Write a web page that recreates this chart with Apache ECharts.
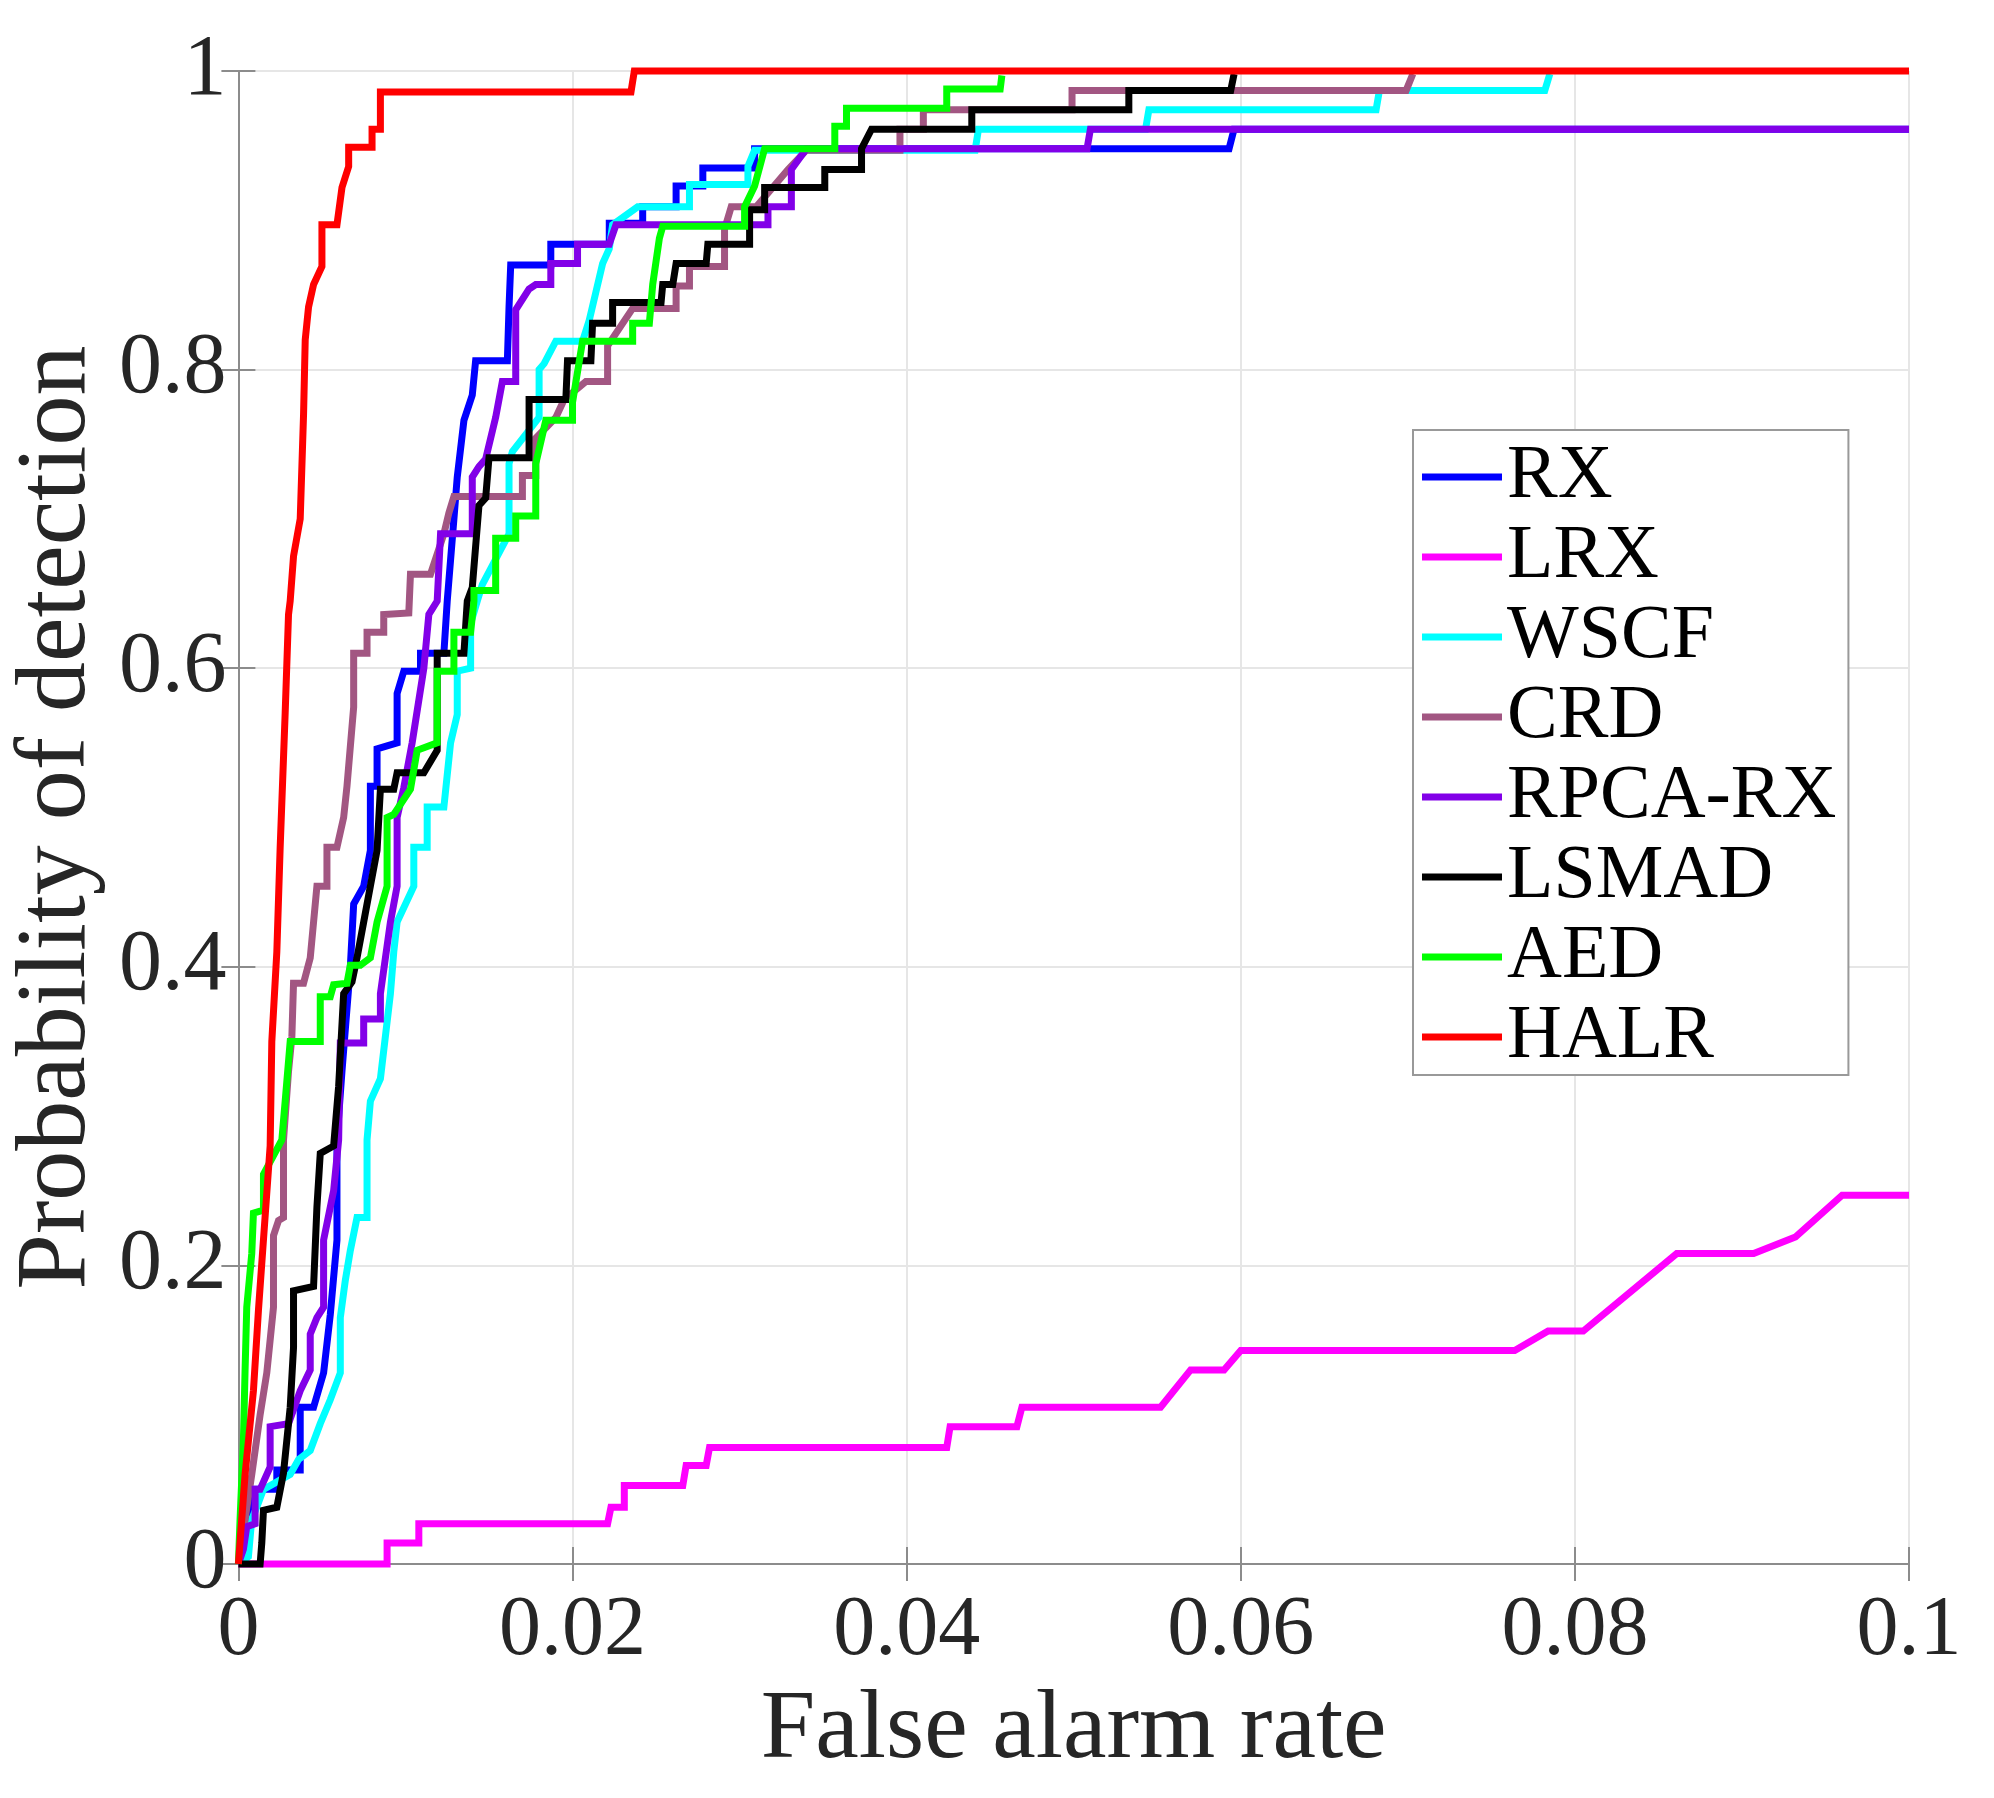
<!doctype html>
<html>
    <head>
        <meta charset="utf-8">
        <title>ROC curves</title>
        <style>
            html, body { margin: 0; padding: 0; background: #fff; }
            #main { width: 1994px; height: 1798px; }
        </style>
    </head>
    <body>
        <div id="main"></div>
        <script src="https://cdn.jsdelivr.net/npm/echarts@6/dist/echarts.min.js"></script>
        <script>
            // tick labels
            var xTickLabels = ['0', '0.02', '0.04', '0.06', '0.08', '0.1'];
            var yTickLabels = ['0', '0.2', '0.4', '0.6', '0.8', '1'];

            var methodNames = ['RX', 'LRX', 'WSCF', 'CRD', 'RPCA-RX', 'LSMAD', 'AED', 'HALR'];

            // [false alarm rate, probability of detection]
            var rxCurve = [[0, 0], [0.0003, 0.01], [0.0006, 0.03], [0.0009, 0.05], [0.0023, 0.05], [0.0023, 0.063], [0.0037, 0.063],
                [0.0037, 0.105], [0.0045, 0.105], [0.0051, 0.128], [0.0055, 0.167], [0.0059, 0.217], [0.0059, 0.284], [0.0062, 0.33],
                [0.0067, 0.40], [0.0069, 0.442], [0.0075, 0.454], [0.0079, 0.478], [0.0079, 0.521], [0.0083, 0.521], [0.0083, 0.546],
                [0.0095, 0.55], [0.0095, 0.583], [0.0099, 0.598], [0.0109, 0.598], [0.0109, 0.61], [0.0123, 0.61], [0.0125, 0.645],
                [0.0129, 0.70], [0.0131, 0.728], [0.0135, 0.766], [0.014, 0.783], [0.0142, 0.806], [0.0161, 0.806], [0.0162, 0.842],
                [0.0163, 0.870], [0.0187, 0.870], [0.0187, 0.884], [0.0222, 0.884], [0.0222, 0.898], [0.0242, 0.898], [0.0242, 0.909],
                [0.0262, 0.909], [0.0262, 0.923], [0.0278, 0.923], [0.0278, 0.935], [0.0309, 0.935], [0.0309, 0.948], [0.0593, 0.948],
                [0.0596, 0.961], [0.1, 0.961]];

            var lrxCurve = [[0, 0], [0.0089, 0], [0.0089, 0.014], [0.0108, 0.014], [0.0108, 0.027], [0.0221, 0.027], [0.0223, 0.038],
                [0.0231, 0.038], [0.0231, 0.0525], [0.0266, 0.0525], [0.0268, 0.066], [0.028, 0.066], [0.0282, 0.078], [0.0424, 0.078],
                [0.0426, 0.092], [0.0466, 0.092], [0.0469, 0.105], [0.0552, 0.105], [0.057, 0.13], [0.059, 0.13], [0.06, 0.143],
                [0.0764, 0.143], [0.0784, 0.156], [0.0805, 0.156], [0.0861, 0.208], [0.0907, 0.208], [0.0932, 0.219], [0.096, 0.247],
                [0.1, 0.247]];

            var wscfCurve = [[0, 0], [0.0006, 0.005], [0.0008, 0.03], [0.0011, 0.038], [0.0015, 0.05], [0.0031, 0.06], [0.0036, 0.07],
                [0.0043, 0.076], [0.0049, 0.094], [0.0055, 0.11], [0.0061, 0.128], [0.0061, 0.165], [0.0064, 0.19], [0.0067, 0.21],
                [0.0071, 0.232], [0.0077, 0.232], [0.0077, 0.284], [0.0079, 0.31], [0.0085, 0.325], [0.0091, 0.382], [0.0093, 0.41],
                [0.0095, 0.43], [0.0105, 0.454], [0.0105, 0.48], [0.0113, 0.48], [0.0113, 0.507], [0.0123, 0.507], [0.0127, 0.55],
                [0.0131, 0.569], [0.0131, 0.598], [0.0139, 0.60], [0.0139, 0.63], [0.0143, 0.645], [0.0146, 0.656], [0.0162, 0.69],
                [0.0162, 0.737], [0.0164, 0.745], [0.018, 0.768], [0.018, 0.80], [0.0183, 0.804], [0.019, 0.819], [0.0206, 0.819],
                [0.021, 0.833], [0.0214, 0.852], [0.0218, 0.871], [0.0222, 0.881], [0.0224, 0.897], [0.0239, 0.909], [0.027, 0.909],
                [0.027, 0.924], [0.0305, 0.924], [0.0305, 0.936], [0.0309, 0.947], [0.0441, 0.947], [0.0443, 0.961], [0.0543, 0.961],
                [0.0545, 0.974], [0.0681, 0.974], [0.0683, 0.987], [0.0782, 0.987], [0.0785, 0.998]];

            var crdCurve = [[0, 0], [0.0004, 0.03], [0.0008, 0.06], [0.0013, 0.1], [0.0017, 0.128], [0.0021, 0.172], [0.0021, 0.22],
                [0.0024, 0.23], [0.0027, 0.232], [0.0027, 0.284], [0.003, 0.33], [0.0032, 0.353], [0.0033, 0.389], [0.0039, 0.389],
                [0.0043, 0.406], [0.0045, 0.43], [0.0047, 0.454], [0.0053, 0.454], [0.0053, 0.48], [0.0059, 0.48], [0.0063, 0.50],
                [0.0065, 0.521], [0.0069, 0.574], [0.0069, 0.61], [0.0077, 0.61], [0.0077, 0.624], [0.0087, 0.624], [0.0087, 0.636],
                [0.0102, 0.637], [0.0103, 0.663], [0.0115, 0.663], [0.0123, 0.69], [0.0126, 0.704], [0.0129, 0.715], [0.017, 0.715],
                [0.017, 0.729], [0.0178, 0.729], [0.0178, 0.754], [0.019, 0.768], [0.0195, 0.78], [0.0208, 0.792], [0.0221, 0.792],
                [0.0221, 0.816], [0.0236, 0.841], [0.0262, 0.841], [0.0262, 0.856], [0.027, 0.856], [0.027, 0.869], [0.0291, 0.869],
                [0.0291, 0.894], [0.0295, 0.909], [0.031, 0.909], [0.0329, 0.934], [0.034, 0.947], [0.0396, 0.947], [0.0396, 0.961],
                [0.041, 0.961], [0.041, 0.974], [0.0499, 0.974], [0.0499, 0.987], [0.0699, 0.987], [0.0703, 0.998]];

            var rpcaCurve = [[0, 0], [0.0003, 0.01], [0.0005, 0.025], [0.001, 0.027], [0.001, 0.05], [0.0013, 0.05], [0.0019, 0.065],
                [0.0019, 0.092], [0.003, 0.094], [0.0037, 0.116], [0.0043, 0.13], [0.0043, 0.154], [0.0047, 0.165], [0.0051, 0.172],
                [0.0051, 0.217], [0.0057, 0.25], [0.006, 0.284], [0.0061, 0.349], [0.0075, 0.349], [0.0075, 0.365], [0.0085, 0.365],
                [0.0085, 0.382], [0.0091, 0.43], [0.0095, 0.454], [0.0095, 0.50], [0.0099, 0.52], [0.0104, 0.55], [0.0111, 0.60],
                [0.0114, 0.636], [0.0119, 0.645], [0.0121, 0.69], [0.014, 0.69], [0.014, 0.728], [0.0144, 0.735], [0.0148, 0.74],
                [0.0154, 0.768], [0.0158, 0.792], [0.0166, 0.792], [0.0166, 0.84], [0.0174, 0.854], [0.0178, 0.857], [0.0187, 0.857],
                [0.0187, 0.871], [0.0203, 0.871], [0.0203, 0.884], [0.0222, 0.884], [0.0226, 0.897], [0.0317, 0.897], [0.0317, 0.909],
                [0.0331, 0.909], [0.0331, 0.934], [0.034, 0.948], [0.0508, 0.948], [0.051, 0.961], [0.1, 0.961]];

            var lsmadCurve = [[0, 0], [0.0013, 0], [0.0014, 0.014], [0.0015, 0.036], [0.0023, 0.038], [0.0027, 0.061], [0.0031, 0.105],
                [0.0033, 0.145], [0.0033, 0.183], [0.0045, 0.186], [0.0047, 0.239], [0.0049, 0.275], [0.0057, 0.28], [0.006, 0.32],
                [0.0063, 0.382], [0.0068, 0.39], [0.0071, 0.406], [0.0075, 0.43], [0.0079, 0.454], [0.0083, 0.478], [0.0085, 0.519],
                [0.0093, 0.519], [0.0095, 0.53], [0.0111, 0.53], [0.0119, 0.545], [0.0119, 0.61], [0.0135, 0.61], [0.0137, 0.645],
                [0.014, 0.654], [0.0144, 0.709], [0.0148, 0.714], [0.015, 0.741], [0.0174, 0.741], [0.0174, 0.78], [0.0196, 0.78],
                [0.0197, 0.806], [0.0211, 0.806], [0.0212, 0.831], [0.0224, 0.831], [0.0224, 0.845], [0.0253, 0.845], [0.0254, 0.857],
                [0.026, 0.857], [0.0262, 0.871], [0.028, 0.871], [0.0281, 0.884], [0.0306, 0.884], [0.0306, 0.907], [0.0315, 0.907],
                [0.0315, 0.922], [0.0351, 0.922], [0.0351, 0.934], [0.0373, 0.934], [0.0373, 0.948], [0.0379, 0.961], [0.0439, 0.961],
                [0.0439, 0.974], [0.0533, 0.974], [0.0533, 0.987], [0.0594, 0.987], [0.0596, 0.998]];

            var aedCurve = [[0, 0], [0.0001, 0.03], [0.0003, 0.083], [0.0004, 0.13], [0.0005, 0.172], [0.0008, 0.208], [0.0009, 0.235],
                [0.0015, 0.237], [0.0015, 0.261], [0.0026, 0.284], [0.0028, 0.31], [0.0031, 0.35], [0.0049, 0.35], [0.0049, 0.38],
                [0.0055, 0.38], [0.0057, 0.388], [0.0065, 0.389], [0.0067, 0.401], [0.0073, 0.401], [0.0079, 0.406], [0.0083, 0.43],
                [0.0089, 0.454], [0.0089, 0.50], [0.0093, 0.502], [0.0103, 0.519], [0.0107, 0.545], [0.0119, 0.55], [0.0119, 0.598],
                [0.0129, 0.598], [0.0129, 0.624], [0.0139, 0.624], [0.0141, 0.645], [0.0141, 0.652], [0.0154, 0.652], [0.0154, 0.687],
                [0.0166, 0.687], [0.0166, 0.702], [0.0178, 0.702], [0.0178, 0.737], [0.0184, 0.766], [0.02, 0.766], [0.02, 0.778],
                [0.0206, 0.819], [0.0236, 0.819], [0.0236, 0.831], [0.0246, 0.831], [0.0248, 0.857], [0.0252, 0.888], [0.0254, 0.896],
                [0.0303, 0.896], [0.0303, 0.909], [0.0309, 0.923], [0.0315, 0.948], [0.0357, 0.948], [0.0357, 0.963], [0.0364, 0.963],
                [0.0364, 0.975], [0.0424, 0.975], [0.0424, 0.988], [0.0456, 0.988], [0.0457, 0.997]];

            var halrCurve = [[0, 0], [0.0004, 0.06], [0.0009, 0.116], [0.0012, 0.17], [0.0019, 0.28], [0.002, 0.35], [0.0023, 0.41],
                [0.0025, 0.48], [0.0028, 0.57], [0.003, 0.636], [0.0031, 0.645], [0.0033, 0.675], [0.0037, 0.70], [0.0039, 0.77],
                [0.004, 0.82], [0.0042, 0.842], [0.0045, 0.857], [0.005, 0.869], [0.005, 0.897], [0.0059, 0.897], [0.0062, 0.922],
                [0.0066, 0.936], [0.0066, 0.949], [0.008, 0.949], [0.008, 0.961], [0.0085, 0.961], [0.0085, 0.986], [0.0235, 0.986],
                [0.0237, 1], [0.1, 1]];

            var curves = [rxCurve, lrxCurve, wscfCurve, crdCurve, rpcaCurve, lsmadCurve, aedCurve, halrCurve];
            var colors = ['#0000ff', '#ff00ff', '#00ffff', '#a25682', '#8200e8', '#000000', '#00ff00', '#ff0000'];

            var chart = echarts.init(document.getElementById('main'));

            var serif = 'Liberation Serif';
            var textColor = '#262626';
            var boxColor = '#8c8c8c';

            var boxAxis = {
                axisLine: { show: true, lineStyle: { color: boxColor, width: 2 } },
                axisTick: { show: true, inside: true, length: 17, lineStyle: { color: boxColor, width: 2 } },
                axisLabel: { show: false },
                splitLine: { show: false }
            };

            chart.setOption({
                animation: false,
                backgroundColor: '#ffffff',
                grid: { left: 234, right: 85, top: 71, bottom: 234 },
                legend: {
                    data: methodNames,
                    orient: 'vertical',
                    left: 1413,
                    top: 430,
                    padding: [9, 12, 0, 9],
                    itemGap: 4,
                    itemWidth: 80,
                    itemHeight: 7,
                    icon: 'rect',
                    backgroundColor: '#ffffff',
                    borderColor: '#999999',
                    borderWidth: 2,
                    borderRadius: 0,
                    textStyle: { fontFamily: serif, fontSize: 76, lineHeight: 76, color: '#000000' }
                },
                xAxis: [{
                    type: 'value',
                    min: 0,
                    max: 0.1,
                    interval: 0.02,
                    name: 'False alarm rate',
                    nameLocation: 'middle',
                    nameGap: 118,
                    nameTextStyle: { fontFamily: serif, fontSize: 98, color: textColor },
                    axisLine: { show: true, onZero: false, lineStyle: { color: boxColor, width: 2 } },
                    axisTick: { show: true, inside: true, length: 17, lineStyle: { color: boxColor, width: 2 } },
                    axisLabel: {
                        margin: 26,
                        fontFamily: serif,
                        fontSize: 84,
                        color: textColor,
                        formatter: function (v) { return xTickLabels[Math.round(v / 0.02)]; }
                    },
                    splitLine: { show: true, lineStyle: { color: '#e6e6e6', width: 2 } }
                }, Object.assign({ type: 'value', position: 'top', min: 0, max: 0.1, interval: 0.02 }, boxAxis)],
                yAxis: [{
                    type: 'value',
                    min: 0,
                    max: 1,
                    interval: 0.2,
                    name: 'Probability of detection',
                    nameLocation: 'middle',
                    nameGap: 112,
                    nameTextStyle: { fontFamily: serif, fontSize: 100, color: textColor },
                    axisLine: { show: true, onZero: false, lineStyle: { color: boxColor, width: 2 } },
                    axisTick: { show: true, inside: true, length: 17, lineStyle: { color: boxColor, width: 2 } },
                    axisLabel: {
                        margin: 12,
                        fontFamily: serif,
                        fontSize: 86,
                        color: textColor,
                        formatter: function (v) { return yTickLabels[Math.round(v / 0.2)]; }
                    },
                    splitLine: { show: true, lineStyle: { color: '#e6e6e6', width: 2 } }
                }, Object.assign({ type: 'value', position: 'right', min: 0, max: 1, interval: 0.2 }, boxAxis)],
                series: methodNames.map(function (name, i) {
                    return {
                        name: name,
                        type: 'line',
                        data: curves[i],
                        xAxisIndex: 0,
                        yAxisIndex: 0,
                        symbol: 'none',
                        clip: false,
                        lineStyle: { color: colors[i], width: 7, join: 'miter' },
                        itemStyle: { color: colors[i] }
                    };
                })
            });

            window.onresize = chart.resize;
        </script>
    </body>
</html>
